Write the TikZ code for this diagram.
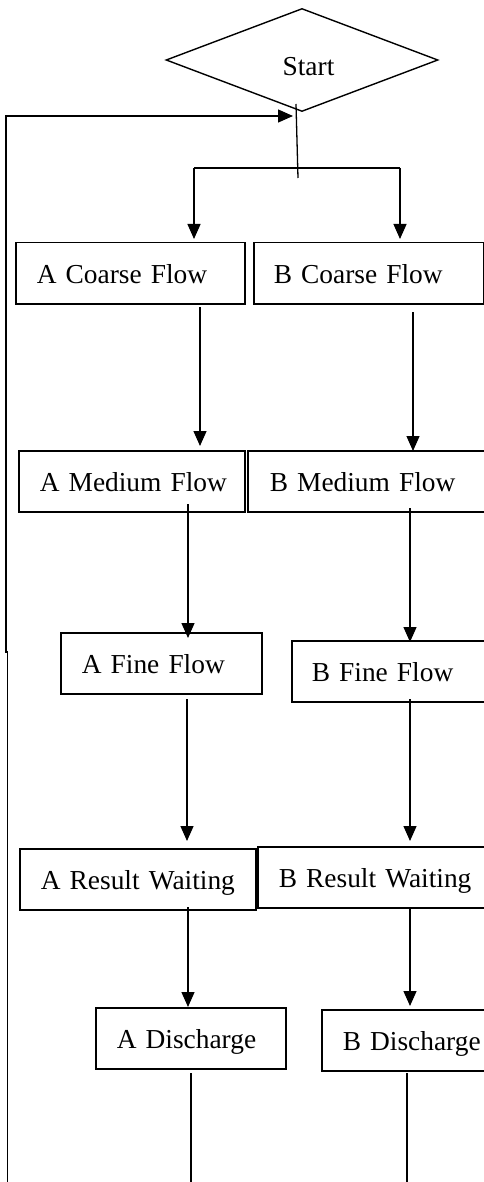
\documentclass[tikz,border=0pt]{standalone}
\usepackage{fontspec}
\setmainfont{Liberation Serif}
\usetikzlibrary{shapes.geometric,arrows.meta}
\begin{document}
\begin{tikzpicture}[x=1pt,y=-1pt,
  every node/.style={font=\fontsize{27.4}{32}\selectfont},
  procbox/.style={draw,line width=1.5pt,rectangle,anchor=north west,align=left,
    minimum height=61pt,inner ysep=0pt,text height=24.5pt,text depth=3.5pt,inner xsep=21pt},
  conn/.style={line width=1.3pt},
  arr/.style={line width=1.3pt,-{Triangle[length=15pt,width=13pt]}},
  branch/.style={line width=2.2pt}]
\useasboundingbox (0,0) rectangle (484,1182);
\clip (0,0) rectangle (484,1182);
% start
\node[diamond,draw,line width=1.4pt,minimum width=272pt,minimum height=103pt,inner sep=0pt] (start) at (302,60) {};
\node[anchor=base,inner sep=0pt] (startlbl) at (308.5,76) {Start};
% boxes
\node[procbox,text width=187pt] (ac) at (15,242) {\mbox{A Coarse Flow}};
\node[procbox,text width=190pt,inner xsep=20pt] (bc) at (253,242) {\mbox{B Coarse Flow}};
\node[procbox,text width=184pt] (am) at (18,450) {\mbox{A Medium Flow}};
\node[procbox,text width=195pt,inner xsep=22pt] (bm) at (247,450) {\mbox{B Medium Flow}};
\node[procbox,text width=159pt] (af) at (60,632) {\mbox{A Fine Flow}};
\node[procbox,text width=160pt,inner xsep=20pt] (bf) at (291,640) {\mbox{B Fine Flow}};
\node[procbox,text width=194pt] (ar) at (19,848) {\mbox{A Result Waiting}};
\node[procbox,text width=190pt] (br) at (257,846) {\mbox{B Result Waiting}};
\node[procbox,text width=148pt] (ad) at (95,1007) {\mbox{A Discharge}};
\node[procbox,text width=145pt] (bd) at (321,1009) {\mbox{B Discharge}};
% connector coordinates
\coordinate (t1) at (296,104);
\coordinate (t2) at (298,178);
\coordinate (bl) at (194,168);
\coordinate (brr) at (400,168);
\coordinate (bl2) at (194,239);
\coordinate (brr2) at (400,239);
\coordinate (l0) at (7.5,1182);
\coordinate (l1) at (7.5,652);
\coordinate (l2) at (6,652);
\coordinate (l3) at (6,116);
\coordinate (l4) at (293,116);
\coordinate (a1) at (200,307); \coordinate (a1e) at (200,446);
\coordinate (b1) at (413,312); \coordinate (b1e) at (413,451);
\coordinate (a2) at (188,504); \coordinate (a2e) at (188,638);
\coordinate (b2) at (410,508); \coordinate (b2e) at (410,642);
\coordinate (a3) at (187,699); \coordinate (a3e) at (187,841);
\coordinate (b3) at (410,699); \coordinate (b3e) at (410,841);
\coordinate (a4) at (188,907); \coordinate (a4e) at (188,1007);
\coordinate (b4) at (410,908); \coordinate (b4e) at (410,1006);
\coordinate (a5) at (191,1073); \coordinate (a5e) at (191,1182);
\coordinate (b5) at (407,1073); \coordinate (b5e) at (407,1182);
% connectors
\draw[conn] (t1) -- (t2);
\draw[branch] (bl) -- (brr);
\draw[arr] (bl) -- (bl2);
\draw[arr] (brr) -- (brr2);
\draw[arr] (l0) -- (l1) -- (l2) -- (l3) -- (l4);
\draw[arr] (a1) -- (a1e);
\draw[arr] (b1) -- (b1e);
\draw[arr] (a2) -- (a2e);
\draw[arr] (b2) -- (b2e);
\draw[arr] (a3) -- (a3e);
\draw[arr] (b3) -- (b3e);
\draw[arr] (a4) -- (a4e);
\draw[arr] (b4) -- (b4e);
\draw[conn] (a5) -- (a5e);
\draw[conn] (b5) -- (b5e);
\end{tikzpicture}
\end{document}
